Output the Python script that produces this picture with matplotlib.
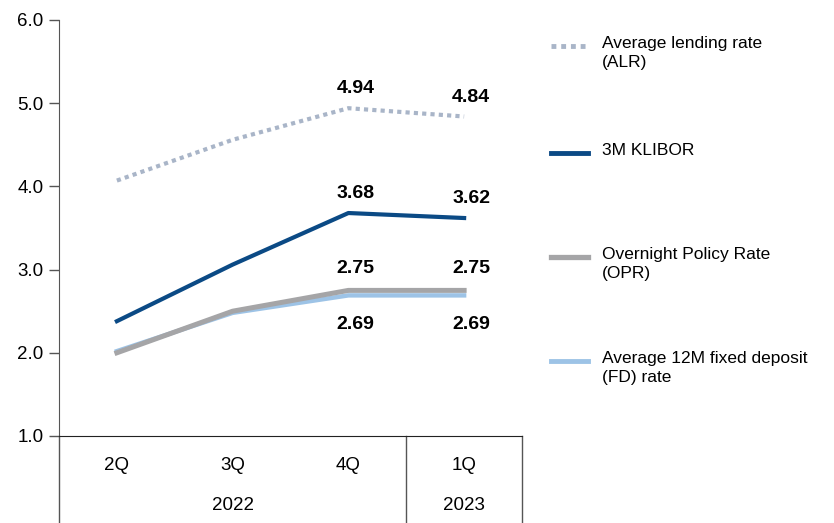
# Malaysian interest rates, 2Q 2022 - 1Q 2023
import matplotlib.pyplot as plt
from matplotlib.lines import Line2D

plt.rcParams['font.family'] = ['Liberation Sans', 'DejaVu Sans']

quarters = ['2Q', '3Q', '4Q', '1Q']
years = ['2022', '2023']
year_centers = [1, 3]

alr = [4.07, 4.56, 4.94, 4.84]
klibor = [2.38, 3.06, 3.68, 3.62]
opr = [2.00, 2.50, 2.75, 2.75]
fd = [2.02, 2.48, 2.69, 2.69]

labels = ['Average lending rate\n(ALR)', '3M KLIBOR',
          'Overnight Policy Rate\n(OPR)', 'Average 12M fixed deposit\n(FD) rate']

c_alr = '#a9b5c8'
c_klibor = '#0b4a85'
c_opr = '#a5a5a7'
c_fd = '#9dc3e6'

fig = plt.figure(figsize=(8.34, 5.23), dpi=100)
ax = fig.add_axes([59 / 834, 1 - 436 / 523, (522 - 59) / 834, 416 / 523])

x = range(len(quarters))
ax.plot(x, alr, color=c_alr, lw=3, linestyle=(0, (1, 1)), dash_capstyle='butt')
ax.plot(x, klibor, color=c_klibor, lw=3)
ax.plot(x, fd, color=c_fd, lw=3.2)
ax.plot(x, opr, color=c_opr, lw=3.6)

# value labels for the last two quarters
lab_kw = dict(fontsize=14, fontweight='bold', ha='center', va='center',
              textcoords='offset points')
for i in (2, 3):
    ax.annotate(f'{alr[i]:.2f}', (i, alr[i]), xytext=(5, 14), **lab_kw)
    ax.annotate(f'{klibor[i]:.2f}', (i, klibor[i]), xytext=(5, 14), **lab_kw)
    ax.annotate(f'{opr[i]:.2f}', (i, opr[i]), xytext=(5, 16), **lab_kw)
    ax.annotate(f'{fd[i]:.2f}', (i, fd[i]), xytext=(5, -21), **lab_kw)

ax.set_xlim(-0.5, 3.5)
ax.set_ylim(1, 6)
ax.set_yticks([1, 2, 3, 4, 5, 6])
ax.set_yticklabels([f'{v:.1f}' for v in range(1, 7)])
ax.tick_params(axis='y', length=7, width=1, color='#555555', labelsize=13.5, pad=4)
ax.set_xticks([])
for s in ('top', 'right'):
    ax.spines[s].set_visible(False)
ax.spines['left'].set_color('#555555')
ax.spines['bottom'].set_color('#222222')

# category table below the axis
tr = ax.get_xaxis_transform()
bot = -87 / 416
for xv in (-0.5, 2.5, 3.5):
    ax.plot([xv, xv], [0, bot], transform=tr, color='#555555', lw=1, clip_on=False)
for i, q in enumerate(quarters):
    ax.text(i, -29 / 416, q, transform=tr, ha='center', va='center', fontsize=13.5)
for xc, yr in zip(year_centers, years):
    ax.text(xc, -69 / 416, yr, transform=tr, ha='center', va='center', fontsize=13.5)

# legend on the right
W, H = 834, 523
handles = [(c_alr, (0, (1, 1)), 3.5, 46), (c_klibor, '-', 3.5, 153),
           (c_opr, '-', 3.8, 257), (c_fd, '-', 3.5, 361)]
for (col, ls, lw, yp), lab in zip(handles, labels):
    fig.add_artist(Line2D([551 / W, 588 / W], [1 - yp / H] * 2, color=col, lw=lw,
                          linestyle=ls, dash_capstyle='butt'))
    fig.text(602 / W, 1 - (yp - 10) / H, lab, ha='left', va='top', fontsize=12.5,
             linespacing=1.3)

fig.savefig('out.png', dpi=100, facecolor='white')
